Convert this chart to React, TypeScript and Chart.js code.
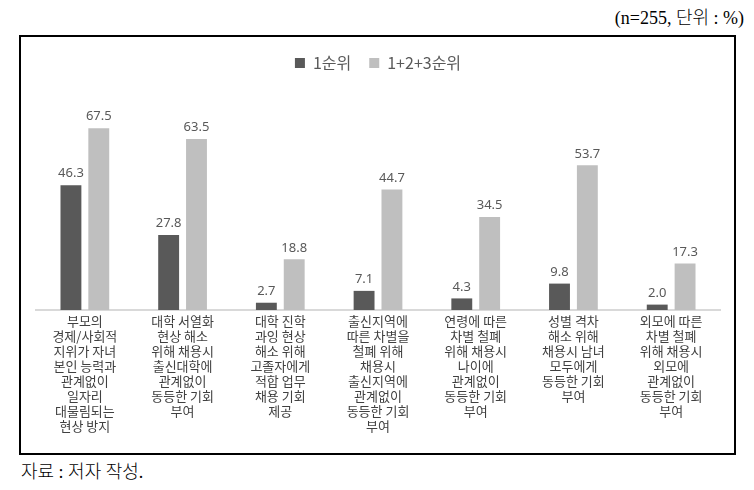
import React, { useEffect, useRef } from "react";
import { Chart, registerables } from "chart.js";

Chart.register(...registerables);

const categories: string[][] = [
  ["부모의", "경제/사회적", "지위가 자녀", "본인 능력과", "관계없이", "일자리", "대물림되는", "현상 방지"],
  ["대학 서열화", "현상 해소", "위해 채용시", "출신대학에", "관계없이", "동등한 기회", "부여"],
  ["대학 진학", "과잉 현상", "해소 위해", "고졸자에게", "적합 업무", "채용 기회", "제공"],
  ["출신지역에", "따른 차별을", "철폐 위해", "채용시", "출신지역에", "관계없이", "동등한 기회", "부여"],
  ["연령에 따른", "차별 철폐", "위해 채용시", "나이에", "관계없이", "동등한 기회", "부여"],
  ["성별 격차", "해소 위해", "채용시 남녀", "모두에게", "동등한 기회", "부여"],
  ["외모에 따른", "차별 철폐", "위해 채용시", "외모에", "관계없이", "동등한 기회", "부여"],
];
const firstRank: number[] = [46.3, 27.8, 2.7, 7.1, 4.3, 9.8, 2.0];
const top3Rank: number[] = [67.5, 63.5, 18.8, 44.7, 34.5, 53.7, 17.3];
const seriesNames: string[] = ["1순위", "1+2+3순위"];
const noteText = "(n=255, 단위 : %)";
const sourceText = "자료 : 저자 작성.";

const valueLabels = {
  id: "valueLabels",
  afterDatasetsDraw(chart: any) {
    const ctx = chart.ctx;
    ctx.save();
    ctx.font = "13px 'Noto Sans', 'DejaVu Sans', sans-serif";
    ctx.fillStyle = "#595959";
    ctx.textAlign = "center";
    ctx.textBaseline = "bottom";
    chart.data.datasets.forEach((ds: any, i: number) => {
      const meta = chart.getDatasetMeta(i);
      meta.data.forEach((bar: any, j: number) => {
        ctx.fillText(Number(ds.data[j]).toFixed(1), bar.x, bar.y - 5);
      });
    });
    ctx.restore();
  },
};

export default function App() {
  const ref = useRef<HTMLCanvasElement | null>(null);
  useEffect(() => {
    if (!ref.current) return;
    const chart = new Chart(ref.current, {
      type: "bar",
      data: {
        labels: categories,
        datasets: [
          { label: seriesNames[0], data: firstRank, backgroundColor: "#595959" },
          { label: seriesNames[1], data: top3Rank, backgroundColor: "#bfbfbf" },
        ],
      },
      options: {
        responsive: false,
        animation: false,
        layout: { padding: { left: 15, right: 14, top: 0, bottom: 0 } },
        datasets: { bar: { barPercentage: 0.75, categoryPercentage: 0.57 } } as any,
        plugins: {
          legend: {
            position: "top",
            labels: {
              boxWidth: 10,
              boxHeight: 10,
              color: "#595959",
              font: { size: 16, family: "'Noto Sans CJK KR', 'Noto Sans', sans-serif" },
              padding: 18,
            },
          },
          tooltip: { enabled: false },
        },
        scales: {
          x: {
            grid: { display: false, drawTicks: false },
            border: { color: "#d9d9d9", width: 2 },
            ticks: {
              color: "#404040",
              padding: 4,
              maxRotation: 0,
              autoSkip: false,
              font: { size: 13, family: "'Noto Sans CJK KR', sans-serif", lineHeight: 15 / 13 },
            },
            afterFit: (s: any) => {
              s.height = 143;
            },
          },
          y: {
            display: false,
            min: 0,
            max: 85,
          },
        },
      },
      plugins: [valueLabels],
    });
    return () => chart.destroy();
  }, []);

  const serif = "'Liberation Serif', 'Noto Sans CJK KR', serif";
  return (
    <div style={{ position: "fixed", left: 0, top: 0, width: 754, height: 490, background: "#fff" }}>
      <div
        style={{
          position: "absolute",
          right: 10,
          top: 6,
          fontFamily: serif,
          fontSize: 18,
          lineHeight: "24px",
          fontWeight: 300,
          color: "#000",
          whiteSpace: "nowrap",
        }}
      >
        {noteText}
      </div>
      <div
        style={{
          position: "absolute",
          left: 19,
          top: 35,
          width: 717,
          height: 420,
          border: "2px solid #000",
          boxSizing: "border-box",
        }}
      >
        <canvas ref={ref} width={713} height={416} style={{ display: "block" }} />
      </div>
      <div
        style={{
          position: "absolute",
          left: 21,
          top: 460,
          fontFamily: serif,
          fontSize: 18,
          lineHeight: "24px",
          fontWeight: 300,
          color: "#000",
          whiteSpace: "nowrap",
        }}
      >
        {sourceText}
      </div>
    </div>
  );
}
